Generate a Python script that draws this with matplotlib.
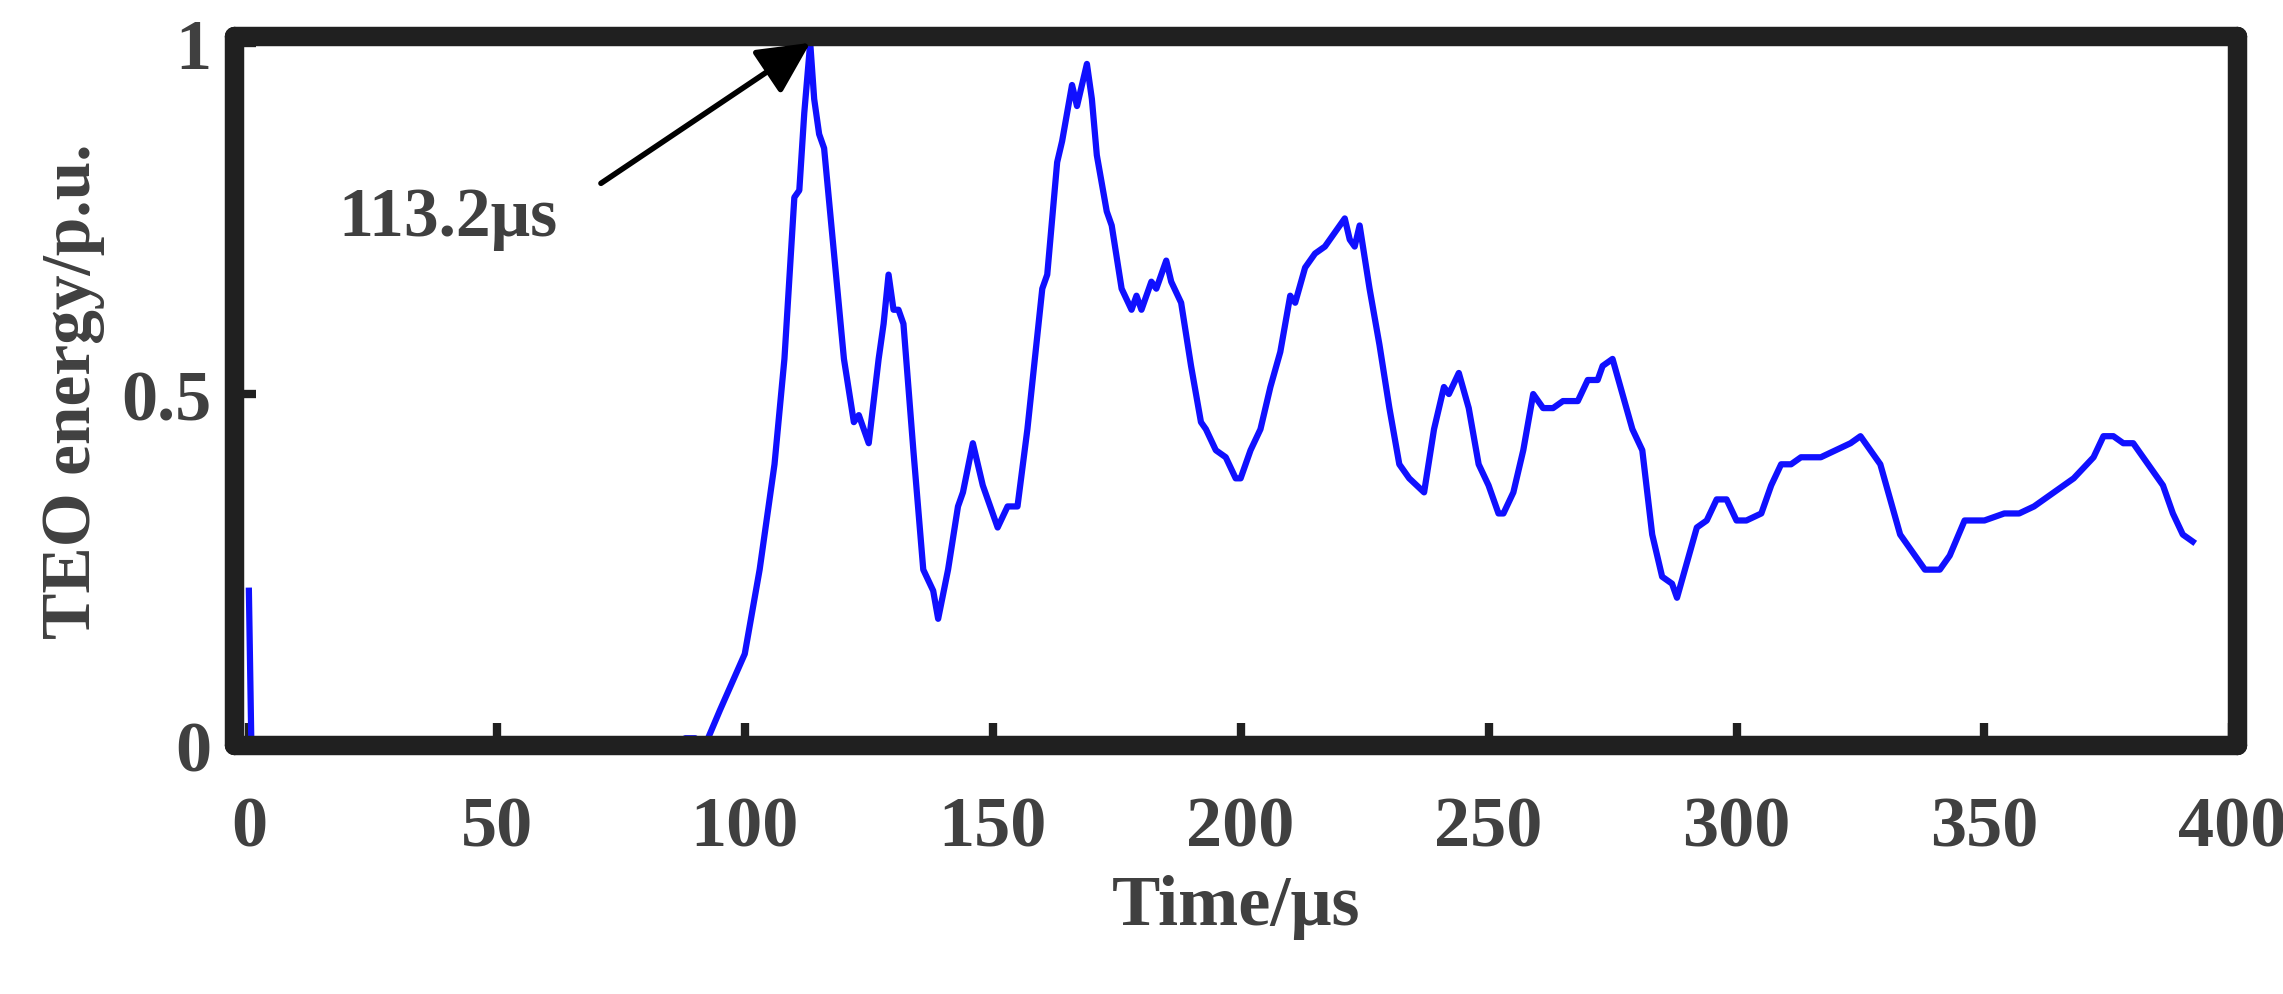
import matplotlib.pyplot as plt

# TEO energy curve
t = [0, 0.5, 1.5, 87, 88, 90, 92, 95, 100, 103, 106, 108, 110, 111, 112, 113.2, 114, 115, 116, 118, 120,
     122, 123, 125, 127, 128, 129, 130, 131, 132, 134, 136, 138, 139, 141, 143, 144, 146, 148, 150,
     151, 153, 155, 157, 160, 161, 163, 164, 166, 167, 169, 170, 171, 173, 174, 176, 178, 179, 180,
     182, 183, 185, 186, 188, 190, 192, 193, 195, 197, 199, 200, 202, 204, 206, 208, 210, 211, 213,
     215, 217, 219, 221, 222, 223, 224, 226, 228, 230, 232, 234, 237, 239, 241, 242, 244, 246, 248,
     250, 252, 253, 255, 257, 259, 261, 263, 265, 268, 270, 272, 273, 275, 277, 279, 281, 283, 285,
     287, 288, 290, 292, 294, 296, 298, 300, 302, 305, 307, 309, 311, 313, 317, 320, 323, 325, 327,
     329, 331, 333, 335, 338, 341, 343, 346, 350, 354, 357, 360, 364, 368, 372, 374, 376, 378, 380,
     383, 386, 388, 390, 392]
energy = [0.22, 0.0, 0.0, 0.0, 0.01, 0.01, 0.0, 0.05, 0.13, 0.25, 0.4, 0.55, 0.78, 0.79, 0.9, 1.0, 0.92,
          0.87, 0.85, 0.7, 0.55, 0.46, 0.47, 0.43, 0.55, 0.6, 0.67, 0.62, 0.62, 0.6, 0.42, 0.25, 0.22,
          0.18, 0.25, 0.34, 0.36, 0.43, 0.37, 0.33, 0.31, 0.34, 0.34, 0.45, 0.65, 0.67, 0.83, 0.86,
          0.94, 0.91, 0.97, 0.92, 0.84, 0.76, 0.74, 0.65, 0.62, 0.64, 0.62, 0.66, 0.65, 0.69, 0.66,
          0.63, 0.54, 0.46, 0.45, 0.42, 0.41, 0.38, 0.38, 0.42, 0.45, 0.51, 0.56, 0.64, 0.63, 0.68,
          0.7, 0.71, 0.73, 0.75, 0.72, 0.71, 0.74, 0.65, 0.57, 0.48, 0.4, 0.38, 0.36, 0.45, 0.51, 0.5,
          0.53, 0.48, 0.4, 0.37, 0.33, 0.33, 0.36, 0.42, 0.5, 0.48, 0.48, 0.49, 0.49, 0.52, 0.52, 0.54,
          0.55, 0.5, 0.45, 0.42, 0.3, 0.24, 0.23, 0.21, 0.26, 0.31, 0.32, 0.35, 0.35, 0.32, 0.32, 0.33,
          0.37, 0.4, 0.4, 0.41, 0.41, 0.42, 0.43, 0.44, 0.42, 0.4, 0.35, 0.3, 0.28, 0.25, 0.25, 0.27,
          0.32, 0.32, 0.33, 0.33, 0.34, 0.36, 0.38, 0.41, 0.44, 0.44, 0.43, 0.43, 0.4, 0.37, 0.33,
          0.3, 0.29]
xticks = [0, 50, 100, 150, 200, 250, 300, 350, 400]
yticks = [0, 0.5, 1]

grey = '#404040'
plt.rcParams['font.family'] = ['Liberation Serif', 'DejaVu Serif']
plt.rcParams['font.weight'] = 'bold'
plt.rcParams['axes.labelweight'] = 'bold'

fig = plt.figure(figsize=(22.83, 9.95), dpi=100)
ax = fig.add_axes([0.1025, 0.25, 0.8775, 0.713])
ax.plot(t, energy, color='#1010ff', lw=4.5)
ax.set_xlim(-3, 401)
ax.set_ylim(0, 1.01)
ax.set_xticks(xticks)
ax.set_xticklabels([str(v) for v in xticks])
ax.set_yticks(yticks)
ax.set_yticklabels(['0', '0.5', '1'])
for s in ax.spines.values():
    s.set_linewidth(14)
    s.set_color('#202020')
    s.set_capstyle('round')
ax.tick_params(direction='in', length=16, width=6, color='#202020', labelsize=52,
               labelcolor=grey, pad=36)
ax.tick_params(axis='y', pad=16)
ax.set_xlabel('Time/μs', fontsize=52, color=grey, labelpad=10)
ax.set_ylabel('TEO energy/p.u.', fontsize=50, color=grey, labelpad=12)

# peak marker
ax.annotate('', xy=(113.2, 1.0), xytext=(71, 0.8),
            arrowprops=dict(arrowstyle='-|>,head_length=3.2,head_width=1.6', color='black', lw=4,
                            shrinkA=0, shrinkB=0))
ax.text(18, 0.75, '113.2μs', fontsize=50, color=grey, va='center')

fig.savefig('out.png', dpi=100)
